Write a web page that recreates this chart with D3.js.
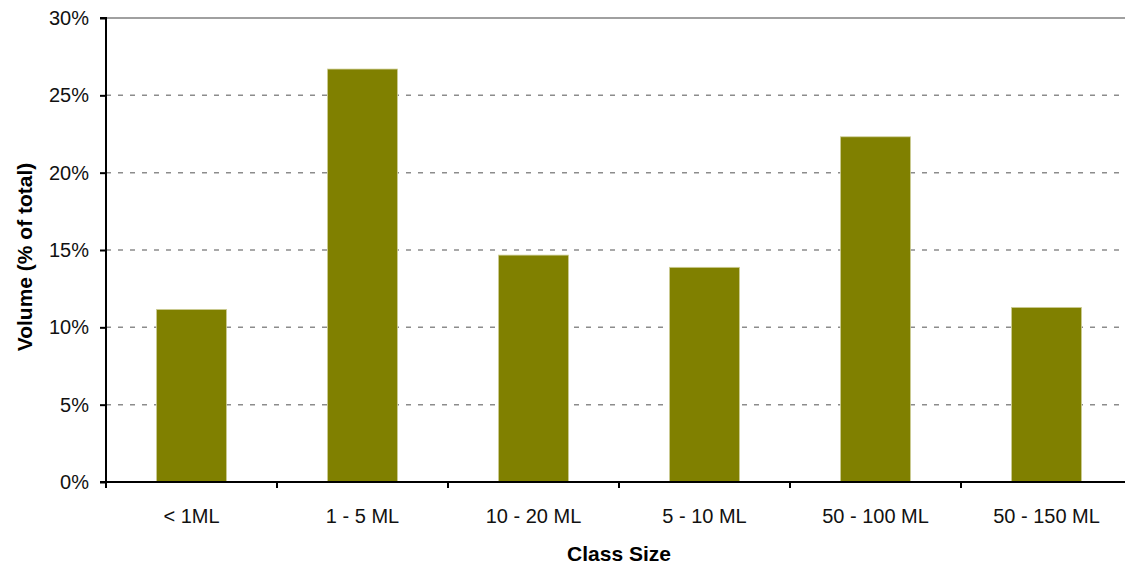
<!DOCTYPE html>
<html>
<head>
<meta charset="utf-8">
<script src="https://cdn.jsdelivr.net/npm/d3@7"></script>
<style>
  html, body { margin: 0; padding: 0; background: #fff; }
  svg { display: block; font-family: "Liberation Sans", Arial, sans-serif; }
</style>
</head>
<body>
<svg id="chart" width="1125" height="569"></svg>
<script>
// Volume share by class size
const categories = ["< 1ML", "1 - 5 ML", "10 - 20 ML", "5 - 10 ML", "50 - 100 ML", "50 - 150 ML"];
const volumes = [11.16, 26.7, 14.67, 13.88, 22.32, 11.29];
const yTicks = [0, 5, 10, 15, 20, 25, 30];
const yTitle = "Volume (% of total)";
const xTitle = "Class Size";

const svg = d3.select("#chart");
const plot = { left: 106, right: 1132, top: 18, bottom: 482 };

const x = d3.scaleBand()
  .domain(categories)
  .range([plot.left, plot.right])
  .paddingInner(0.59)
  .paddingOuter(0.295);

const y = d3.scaleLinear()
  .domain([0, 30])
  .range([plot.bottom, plot.top]);

// horizontal gridlines
svg.append("g")
  .selectAll("line")
  .data(yTicks.filter(t => t > 0 && t < 30))
  .join("line")
  .attr("x1", plot.left)
  .attr("x2", plot.right)
  .attr("y1", d => y(d))
  .attr("y2", d => y(d))
  .attr("stroke", "#8c8c8c")
  .attr("stroke-width", 1.5)
  .attr("stroke-dasharray", "5,7");

// plot frame at the top
svg.append("line")
  .attr("x1", plot.left).attr("x2", plot.right)
  .attr("y1", y(30)).attr("y2", y(30))
  .attr("stroke", "#a0a0a0")
  .attr("stroke-width", 2);

// bars
svg.append("g")
  .selectAll("rect")
  .data(volumes)
  .join("rect")
  .attr("x", (d, i) => x(categories[i]))
  .attr("y", d => y(d))
  .attr("width", x.bandwidth())
  .attr("height", d => y(0) - y(d))
  .attr("fill", "#808000")
  .attr("stroke", "#cfcf9a")
  .attr("stroke-width", 0.8);

// y axis
const yAxis = d3.axisLeft(y)
  .tickValues(yTicks)
  .tickFormat(d => d + "%")
  .tickSize(6)
  .tickPadding(11);

const gy = svg.append("g")
  .attr("transform", `translate(${plot.left},0)`)
  .call(yAxis);
gy.select(".domain").attr("stroke", "#000").attr("stroke-width", 2).attr("d", `M-6,${y(30)}H0V${y(0)}H-6`);
gy.selectAll(".tick line").attr("stroke", "#000").attr("stroke-width", 2);
gy.selectAll(".tick text")
  .attr("font-size", 20)
  .attr("fill", "#111")
  .attr("font-family", "Liberation Sans, Arial, sans-serif");

// x axis: ticks at category boundaries, labels at centres
const gx = svg.append("g");
gx.append("line")
  .attr("x1", plot.left).attr("x2", plot.right)
  .attr("y1", y(0)).attr("y2", y(0))
  .attr("stroke", "#000").attr("stroke-width", 2);

const step = x.step();
const boundaries = categories.map((c, i) => x(c) - step * x.paddingInner() / 2)
  .concat([x(categories[categories.length - 1]) + x.bandwidth() + step * x.paddingInner() / 2]);

gx.selectAll("line.tick")
  .data(boundaries)
  .join("line")
  .attr("class", "tick")
  .attr("x1", d => d).attr("x2", d => d)
  .attr("y1", y(0)).attr("y2", y(0) + 6)
  .attr("stroke", "#000").attr("stroke-width", 2);

gx.selectAll("text")
  .data(categories)
  .join("text")
  .attr("x", d => x(d) + x.bandwidth() / 2)
  .attr("y", y(0) + 41)
  .attr("text-anchor", "middle")
  .attr("font-size", 20)
  .attr("fill", "#111")
  .text(d => d);

// axis titles
svg.append("text")
  .attr("x", (plot.left + plot.right) / 2)
  .attr("y", 561)
  .attr("text-anchor", "middle")
  .attr("font-size", 21)
  .attr("font-weight", "bold")
  .attr("fill", "#000")
  .text(xTitle);

svg.append("text")
  .attr("transform", `translate(32,257) rotate(-90)`)
  .attr("text-anchor", "middle")
  .attr("font-size", 21)
  .attr("font-weight", "bold")
  .attr("fill", "#000")
  .text(yTitle);
</script>
</body>
</html>
